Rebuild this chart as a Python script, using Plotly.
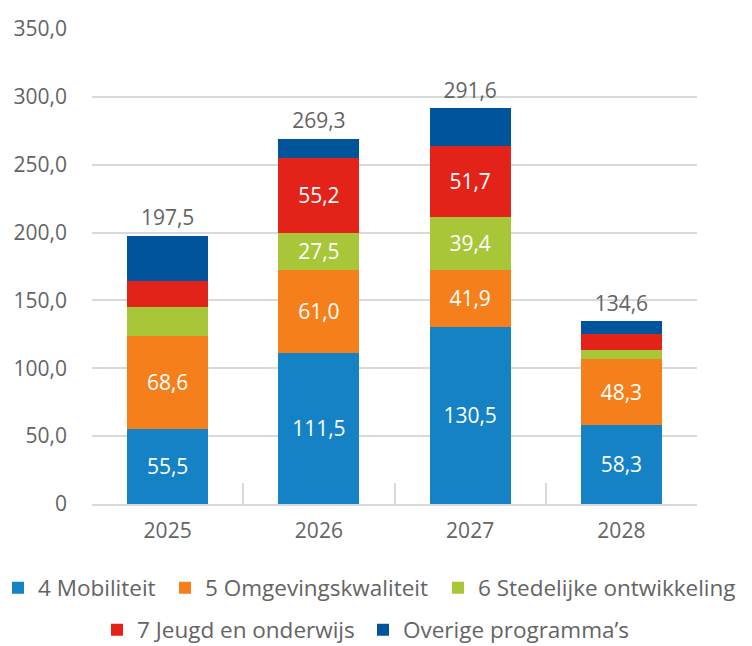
import plotly.graph_objects as go

years = ["2025", "2026", "2027", "2028"]
series_names = ["4 Mobiliteit", "5 Omgevingskwaliteit", "6 Stedelijke ontwikkeling",
                "7 Jeugd en onderwijs", "Overige programma’s"]
mobiliteit = [55.5, 111.5, 130.5, 58.3]
omgevingskwaliteit = [68.6, 61.0, 41.9, 48.3]
stedelijke = [21.3, 27.5, 39.4, 6.6]
jeugd = [19.2, 55.2, 51.7, 11.8]
overige = [32.9, 14.1, 28.1, 9.6]
totals = [197.5, 269.3, 291.6, 134.6]
# which segment values are printed on the bars
show_labels = [
    [True, True, True, True],
    [True, True, True, True],
    [False, True, True, False],
    [False, True, True, False],
    [False, False, False, False],
]
colors = ["#1482c5", "#f57f1b", "#a8c638", "#e32219", "#00549b"]
ytick_vals = [0, 50, 100, 150, 200, 250, 300, 350]
ytick_text = ["0", "50,0", "100,0", "150,0", "200,0", "250,0", "300,0", "350,0"]

FONT = "Open Sans"
GREY = "#646464"
W, H = 752, 646

# legend entry placement (left edge px, row centre px) – layout only
legend_pos = [(-10, 580), (157, 580), (430, 580), (89, 622), (355, 622)]

def fmt(v):
    return f"{v:.1f}".replace(".", ",")

fig = go.Figure()
all_series = [mobiliteit, omgevingskwaliteit, stedelijke, jeugd, overige]
for i, (name, vals, col, show) in enumerate(zip(series_names, all_series, colors, show_labels)):
    fig.add_trace(go.Bar(
        x=years, y=vals, name=name, marker=dict(color=col, line=dict(width=0)),
        text=[fmt(v) if s else "" for v, s in zip(vals, show)],
        textposition="inside", insidetextanchor="middle",
        textfont=dict(color="white", size=21, family=FONT),
        hoverinfo="skip",
        legend="legend" if i == 0 else f"legend{i+1}",
    ))

fig.add_trace(go.Scatter(
    x=years, y=totals, mode="markers+text", text=[fmt(v) for v in totals],
    marker=dict(size=7, opacity=0),
    textposition="top center", textfont=dict(color=GREY, size=21, family=FONT),
    showlegend=False, hoverinfo="skip", cliponaxis=False,
))

ML, MR, MT, MB = 84, 63, 21, 150
PW = W - ML - MR

legends = {}
for i, (lx, ly) in enumerate(legend_pos):
    key = "legend" if i == 0 else f"legend{i+1}"
    legends[key] = dict(
        orientation="h", xref="paper", yref="container",
        x=(lx - ML) / PW, xanchor="left", y=1 - ly / H, yanchor="middle",
        font=dict(size=22.5, color=GREY, family=FONT), bgcolor="rgba(0,0,0,0)",
        borderwidth=0,
    )

fig.update_layout(
    width=W, height=H,
    barmode="stack", bargap=0.465,
    margin=dict(l=ML, r=MR, t=MT, b=MB, autoexpand=False),
    plot_bgcolor="white", paper_bgcolor="white",
    font=dict(family=FONT, color=GREY, size=21),
    uniformtext=dict(mode=False),
    xaxis=dict(type="category", showline=True, linecolor="#d9d9d9", linewidth=2,
               ticks="inside", tickson="boundaries", ticklen=21, tickcolor="#d9d9d9",
               tickwidth=2, tickfont=dict(size=21, color=GREY), showgrid=False,
               automargin=False, ticklabelstandoff=7),
    yaxis=dict(range=[0, 350], tickvals=ytick_vals, ticktext=ytick_text,
               showgrid=True, gridcolor="#d9d9d9", gridwidth=2, zeroline=False,
               tickfont=dict(size=21, color=GREY), ticklabelstandoff=24,
               automargin=False),
    **legends,
)

fig.write_html("out.html")
